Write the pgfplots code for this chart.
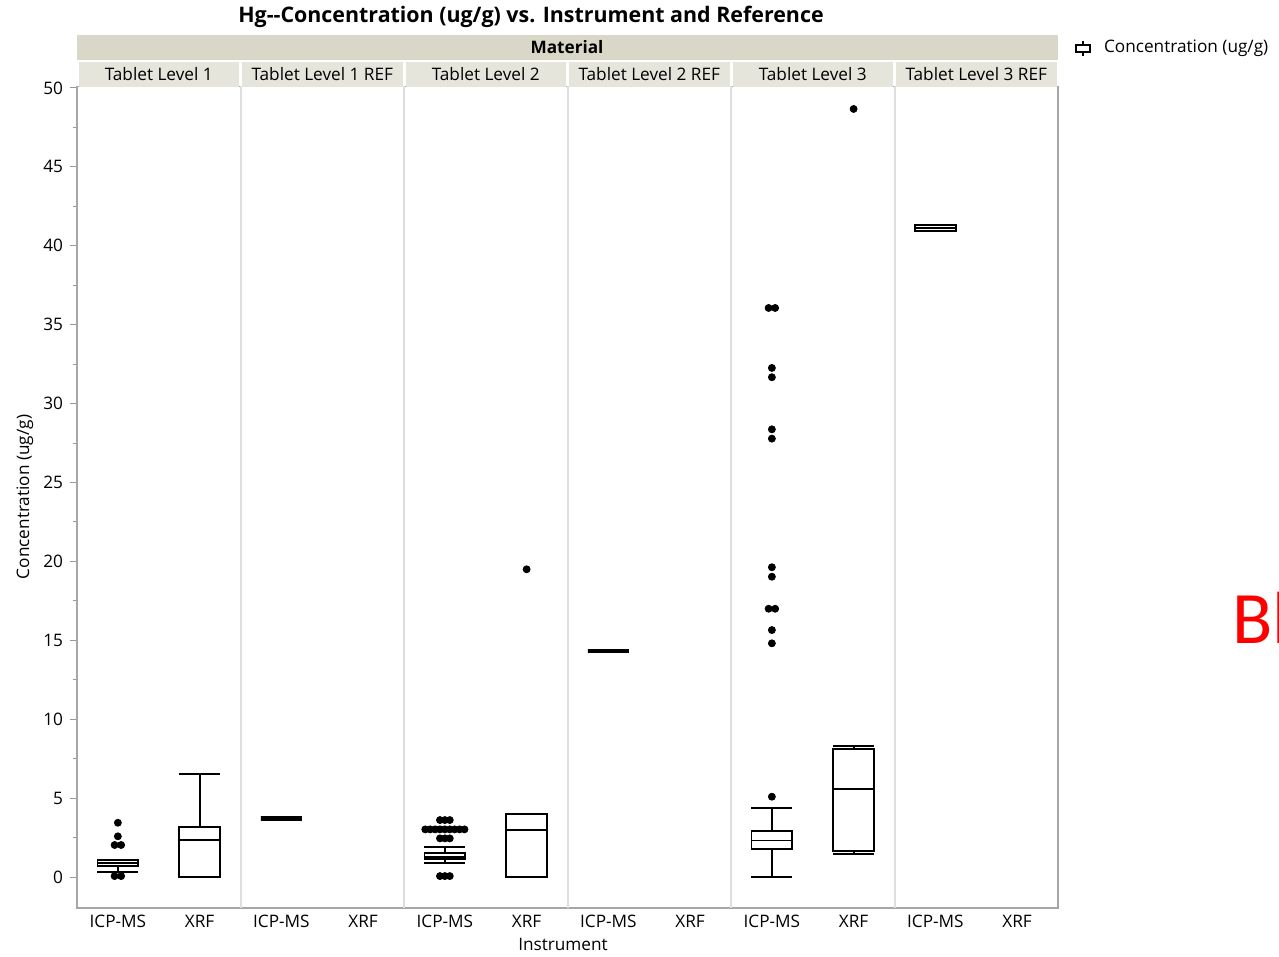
\documentclass[border=0pt]{standalone}
\usepackage{fontspec}
\setmainfont{Open Sans}
\newfontfamily\calfont{Carlito}
\usepackage{pgfplots}
\pgfplotsset{compat=1.18}
\usepgfplotslibrary{statistics}
\definecolor{hdrA}{RGB}{217,215,200}
\definecolor{hdrB}{RGB}{230,229,219}
\definecolor{sepc}{RGB}{222,222,222}
\newcommand\lblfont{\fontsize{8.6}{10}\selectfont}
\begin{document}
\begin{tikzpicture}[x=0.5pt,y=-0.5pt]
\useasboundingbox (0,0) rectangle (1279,957);
\begin{axis}[
  at={(38.5pt,-453.9pt)}, anchor=south west, scale only axis,
  width=490.5pt, height=410.7pt,
  xmin=0, xmax=12, ymin=-1.95, ymax=50.1,
  axis line style={draw=gray!70, line width=0.8pt},
  ytick={0,5,...,50}, minor y tick num=1,
  ytick pos=left, tick align=outside,
  major tick length=3.5pt, minor tick length=2pt,
  y tick style={gray!80, line width=0.5pt},
  xtick={0.5,1.5,...,11.5},
  xticklabels={ICP-MS,XRF,ICP-MS,XRF,ICP-MS,XRF,ICP-MS,XRF,ICP-MS,XRF,ICP-MS,XRF},
  x tick style={draw=none},
  xticklabel style={yshift=3.5pt},
  extra x ticks={2,4,6,8,10}, extra x tick labels={},
  extra x tick style={grid=major, major grid style={sepc, line width=1pt}, tick style={draw=none}},
  tick label style={font=\lblfont},
  /pgf/number format/assume math mode=true,
  clip=false,
  boxplot/draw direction=y,
  boxplot/box extend=0.5, boxplot/whisker extend=0.5,
]
% Tablet Level 1
\addplot[black, line width=0.9pt, boxplot prepared={draw position=0.5, lower whisker=0.34, lower quartile=0.70, median=0.90, upper quartile=1.08, upper whisker=1.10}] coordinates {};
\addplot[only marks, mark=*, mark size=1.75pt, black] coordinates {(0.5,3.44) (0.5,2.58) (0.46,2.03) (0.54,2.03) (0.46,0.06) (0.54,0.06)};
\addplot[black, line width=0.9pt, boxplot prepared={draw position=1.5, lower whisker=0, lower quartile=0, median=2.34, upper quartile=3.15, upper whisker=6.53}] coordinates {};
% Tablet Level 1 REF
\addplot[black, line width=2.2pt, boxplot prepared={draw position=2.5, lower whisker=3.72, lower quartile=3.72, median=3.72, upper quartile=3.72, upper whisker=3.72}] coordinates {};
% Tablet Level 2
\addplot[black, line width=0.9pt, boxplot prepared={draw position=4.5, lower whisker=0.91, lower quartile=1.12, median=1.29, upper quartile=1.54, upper whisker=1.88}] coordinates {};
\addplot[only marks, mark=*, mark size=1.75pt, black] coordinates {
 (4.44,3.61) (4.5,3.61) (4.56,3.61)
 (4.26,3.02) (4.32,3.02) (4.38,3.02) (4.44,3.02) (4.5,3.02) (4.56,3.02) (4.62,3.02) (4.68,3.02) (4.74,3.02)
 (4.44,2.45) (4.5,2.45) (4.56,2.45)
 (4.44,0.06) (4.5,0.06) (4.56,0.06)};
\addplot[black, line width=0.9pt, boxplot prepared={draw position=5.5, lower whisker=0, lower quartile=0, median=2.98, upper quartile=3.99, upper whisker=3.99}] coordinates {};
\addplot[only marks, mark=*, mark size=1.75pt, black] coordinates {(5.5,19.5)};
% Tablet Level 2 REF
\addplot[black, line width=2.2pt, boxplot prepared={draw position=6.5, lower whisker=14.33, lower quartile=14.33, median=14.33, upper quartile=14.33, upper whisker=14.33}] coordinates {};
% Tablet Level 3
\addplot[black, line width=0.9pt, boxplot prepared={draw position=8.5, lower whisker=0, lower quartile=1.76, median=2.32, upper quartile=2.94, upper whisker=4.37}] coordinates {};
\addplot[only marks, mark=*, mark size=1.75pt, black] coordinates {
 (8.5,5.09) (8.5,14.81) (8.5,15.65) (8.46,17.0) (8.54,17.0) (8.5,19.03) (8.5,19.63)
 (8.5,27.78) (8.5,28.37) (8.5,31.67) (8.5,32.26) (8.46,36.06) (8.54,36.06)};
\addplot[black, line width=0.9pt, boxplot prepared={draw position=9.5, lower whisker=1.48, lower quartile=1.65, median=5.58, upper quartile=8.09, upper whisker=8.30}] coordinates {};
\addplot[only marks, mark=*, mark size=1.75pt, black] coordinates {(9.5,48.67)};
% Tablet Level 3 REF
\addplot[black, line width=0.8pt, boxplot prepared={draw position=10.5, lower whisker=40.93, lower quartile=40.93, median=41.12, upper quartile=41.30, upper whisker=41.30}, boxplot/median/.style={gray!35, line width=0.5pt}] coordinates {};
\end{axis}
% header bands
\fill[hdrA] (77,35) rectangle (1058,60);
\node[font=\lblfont\bfseries] at (567,47) {Material};
\foreach \i/\t in {0/Tablet Level 1,1/Tablet Level 1 REF,2/Tablet Level 2,3/Tablet Level 2 REF,4/Tablet Level 3,5/Tablet Level 3 REF}{
  \fill[hdrB] ({77+\i*163.5+1.5},62) rectangle ({77+(\i+1)*163.5-1.5},87);
  \node[font=\lblfont] at ({77+(\i+0.5)*163.5},74) {\t};
}
% title
\node[font=\fontsize{10.7}{12}\selectfont\bfseries] at (531,17) {Hg-{}-Concentration (ug/g) vs. Instrument and Reference};
% axis labels
\node[font=\lblfont] at (563,944) {Instrument};
\node[font=\lblfont, rotate=90] at (25,497) {Concentration (ug/g)};
% legend
\draw[black, line width=0.8pt] (1083,41) -- (1083,56);
\draw[black, line width=0.8pt, fill=white] (1076,45) rectangle (1090,52);
\node[font=\lblfont, anchor=west] at (1097,48) {Concentration (ug/g)};
% stray red text
\node[font=\calfont\fontsize{37}{40}\selectfont, text=red, anchor=base west, inner sep=0pt] at (1232,643) {Bl};
\end{tikzpicture}
\end{document}
